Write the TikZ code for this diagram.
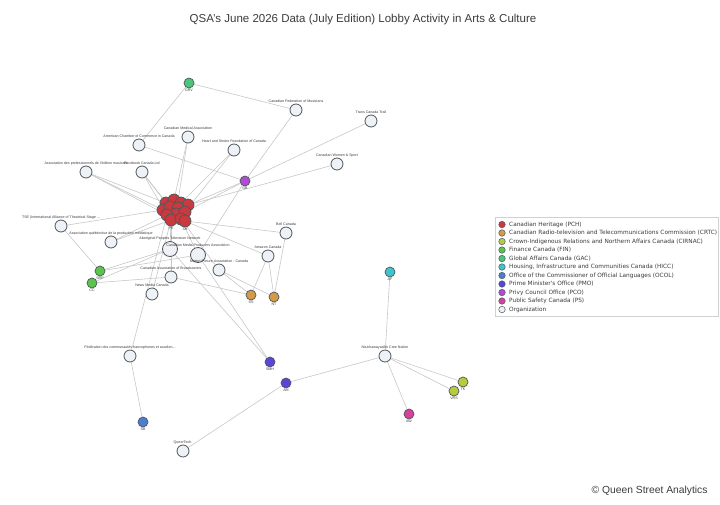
\documentclass[tikz,border=0pt]{standalone}
\usepackage{fontspec}
\setmainfont{Liberation Sans}
\newfontfamily\legendfont{DejaVu Sans}
\usetikzlibrary{backgrounds}

\definecolor{pchred}{HTML}{C83A3E}
\definecolor{crtcorange}{HTML}{D49A48}
\definecolor{cirnacolive}{HTML}{B6CC3E}
\definecolor{fingreen}{HTML}{5CC44C}
\definecolor{gacgreen}{HTML}{4CC47A}
\definecolor{hiccteal}{HTML}{3EC4CA}
\definecolor{ocolblue}{HTML}{4A7ED0}
\definecolor{pmoindigo}{HTML}{5A46D4}
\definecolor{pcopurple}{HTML}{B04CCF}
\definecolor{psmagenta}{HTML}{D4429A}
\definecolor{orgfill}{HTML}{EEF2F6}
\definecolor{nodeline}{HTML}{4E565E}
\definecolor{edgegray}{HTML}{C8C8C8}
\definecolor{labelgray}{HTML}{3C3C3C}

\begin{document}
\begin{tikzpicture}[x=1pt, y=-1pt,
  org/.style={shape=circle, draw=nodeline, fill=orgfill, line width=0.8pt, minimum size=12pt, inner sep=0pt},
  bigorg/.style={org, minimum size=15pt},
  gov/.style={shape=circle, draw=nodeline, line width=0.7pt, minimum size=10pt, inner sep=0pt},
  pch/.style={gov, fill=pchred, minimum size=12pt},
  lbl/.style={font=\fontsize{3.6}{4}\selectfont, text=labelgray, inner sep=0.6pt},
  link/.style={draw=edgegray, line width=0.6pt},
  legmark/.style={shape=circle, draw=nodeline, line width=0.5pt, minimum size=6.5pt, inner sep=0pt},
  legtext/.style={anchor=west, font=\legendfont\fontsize{5.8}{7}\selectfont, text=labelgray, inner sep=0pt}
]
\useasboundingbox (0,0) rectangle (720,504);

\node[font=\fontsize{11.5}{13}\selectfont, text=labelgray] (title) at (363,20) {QSA's June 2026 Data (July Edition) Lobby Activity in Arts \& Culture};

% organizations
\node[org, label={[lbl]above:Canadian Federation of Musicians}] (cfm) at (296,110) {};
\node[org, label={[lbl]above:Trans Canada Trail}] (tct) at (371,121) {};
\node[org, label={[lbl]above:Canadian Medical Association}] (cma) at (188,137) {};
\node[org, label={[lbl]above:American Chamber of Commerce in Canada}] (amcham) at (139,145) {};
\node[org, label={[lbl]above:Heart and Stroke Foundation of Canada}] (hsf) at (234,150) {};
\node[org, label={[lbl]above:Canadian Women \& Sport}] (cws) at (337,164) {};
\node[org, label={[lbl]above:Association des professionnels de l'édition musicale}] (apem) at (86,172) {};
\node[org, label={[lbl]above:Facebook Canada Ltd}] (fb) at (142,172) {};
\node[org, label={[lbl]above:TSE (International Alliance of Theatrical Stage ...}] (tse) at (61,226) {};
\node[org, label={[lbl]above:Association québécoise de la production médiatique}] (aqpm) at (111,242) {};
\node[bigorg, label={[lbl]above:Aboriginal Peoples Television Network}] (aptn) at (170,249) {};
\node[bigorg, label={[lbl]above:Canadian Media Producers Association}] (cmpa) at (198,255) {};
\node[org, label={[lbl]above:Motion Picture Association - Canada}] (mpa) at (219,270) {};
\node[org, label={[lbl]above:Canadian Association of Broadcasters}] (cab) at (171,277) {};
\node[org, label={[lbl]above:Bell Canada}] (bell) at (286,233) {};
\node[org, label={[lbl]above:Amazon Canada}] (amazon) at (268,256) {};
\node[org, label={[lbl]above:News Media Canada}] (news) at (152,294) {};
\node[org, label={[lbl]above:Fédération des communautés francophones et acadien...}] (fcfa) at (130,356) {};
\node[org, label={[lbl]above:QueerTech.}] (qt) at (183,451) {};
\node[org, label={[lbl]above:Nisichawayasihk Cree Nation}] (ncn) at (385,356) {};

% officials
\node[gov, fill=gacgreen, label={[lbl]below:GRV}] (grv) at (189,83) {};
\node[gov, fill=pcopurple, label={[lbl]below:GB}] (gb) at (245,181) {};
\node[gov, fill=fingreen, label={[lbl]below:SRP}] (srp) at (100,271) {};
\node[gov, fill=fingreen, label={[lbl]below:CC}] (cc) at (92,283) {};
\node[gov, fill=crtcorange, label={[lbl]below:SS}] (ss) at (251,295) {};
\node[gov, fill=crtcorange, label={[lbl]below:NT}] (nt) at (274,297) {};
\node[gov, fill=hiccteal, label={[lbl]below:AF}] (af) at (390,272) {};
\node[gov, fill=pmoindigo, label={[lbl]below:SMH}] (smh) at (270,362) {};
\node[gov, fill=pmoindigo, label={[lbl]below:AM}] (am) at (286,383) {};
\node[gov, fill=ocolblue, label={[lbl]below:SB}] (sb) at (143,422) {};
\node[gov, fill=cirnacolive, label={[lbl]below:TK}] (tk) at (463,382) {};
\node[gov, fill=cirnacolive, label={[lbl]below:VRS}] (vrs) at (454,391) {};
\node[gov, fill=psmagenta, label={[lbl]below:AW}] (aw) at (409,414) {};

% PCH cluster
\node[pch] (p1) at (166,203) {};
\node[pch] (p2) at (174,200) {};
\node[pch] (p3) at (181,203) {};
\node[pch] (p4) at (188,205) {};
\node[pch] (p5) at (163,210) {};
\node[pch] (p6) at (170,207) {};
\node[pch] (p13) at (178,208) {};
\node[pch] (p7) at (176,214) {};
\node[pch] (p8) at (185,212) {};
\node[pch] (p9) at (167,215) {};
\node[pch, label={[lbl]below:PE}] (p10) at (171,220) {};
\node[pch] (p11) at (181,219) {};
\node[pch, label={[lbl]below:SH}] (p12) at (185,221) {};

\begin{pgfonlayer}{background}
\fill[white] (0,0) rectangle (720,504);
\path [link] (grv) edge (cfm);
\path [link] (grv) edge (amcham);
\path [link] (gb) edge (amcham);
\path [link] (gb) edge (cfm);
\path [link] (gb) edge (tct);
\path [link] (gb) edge (p4);
\path [link] (gb) edge (p8);
\path [link] (gb) edge (cmpa);
\path [link] (cws) edge (p4);
\path [link] (hsf) edge (p3);
\path [link] (hsf) edge (p8);
\path [link] (cma) edge (p2);
\path [link] (cma) edge (p7);
\path [link] (fb) edge (p1);
\path [link] (fb) edge (p6);
\path [link] (fb) edge (p9);
\path [link] (apem) edge (p1);
\path [link] (apem) edge (p5);
\path [link] (apem) edge (p9);
\path [link] (tse) edge (p5);
\path [link] (tse) edge (srp);
\path [link] (aqpm) edge (p9);
\path [link] (aqpm) edge (p10);
\path [link] (bell) edge (p12);
\path [link] (bell) edge (nt);
\path [link] (amazon) edge (p12);
\path [link] (amazon) edge (ss);
\path [link] (amazon) edge (nt);
\path [link] (mpa) edge (p11);
\path [link] (mpa) edge (ss);
\path [link] (mpa) edge (nt);
\path [link] (cab) edge (p10);
\path [link] (cab) edge (ss);
\path [link] (news) edge (p10);
\path [link] (fcfa) edge (p9);
\path [link] (fcfa) edge (sb);
\path [link] (aptn) edge (p10);
\path [link] (aptn) edge (smh);
\path [link] (aptn) edge (srp);
\path [link] (cmpa) edge (p11);
\path [link] (cmpa) edge (smh);
\path [link] (cmpa) edge (srp);
\path [link] (cc) edge (aptn);
\path [link] (cc) edge (cab);
\path [link] (am) edge (ncn);
\path [link] (am) edge (qt);
\path [link] (ncn) edge (af);
\path [link] (ncn) edge (tk);
\path [link] (ncn) edge (vrs);
\path [link] (ncn) edge (aw);
\end{pgfonlayer}

% legend
\draw[draw=black!18, line width=0.5pt] (495,217) rectangle (718,316);
\node[legmark, fill=pchred] (lg1) at (502,224.5) {};
\node[legtext] at (509,224.5) {Canadian Heritage (PCH)};
\node[legmark, fill=crtcorange] (lg2) at (502,233) {};
\node[legtext] at (509,233) {Canadian Radio-television and Telecommunications Commission (CRTC)};
\node[legmark, fill=cirnacolive] (lg3) at (502,241.5) {};
\node[legtext] at (509,241.5) {Crown-Indigenous Relations and Northern Affairs Canada (CIRNAC)};
\node[legmark, fill=fingreen] (lg4) at (502,250) {};
\node[legtext] at (509,250) {Finance Canada (FIN)};
\node[legmark, fill=gacgreen] (lg5) at (502,258.5) {};
\node[legtext] at (509,258.5) {Global Affairs Canada (GAC)};
\node[legmark, fill=hiccteal] (lg6) at (502,267) {};
\node[legtext] at (509,267) {Housing, Infrastructure and Communities Canada (HICC)};
\node[legmark, fill=ocolblue] (lg7) at (502,275.5) {};
\node[legtext] at (509,275.5) {Office of the Commissioner of Official Languages (OCOL)};
\node[legmark, fill=pmoindigo] (lg8) at (502,284) {};
\node[legtext] at (509,284) {Prime Minister's Office (PMO)};
\node[legmark, fill=pcopurple] (lg9) at (502,292.5) {};
\node[legtext] at (509,292.5) {Privy Council Office (PCO)};
\node[legmark, fill=psmagenta] (lg10) at (502,301) {};
\node[legtext] at (509,301) {Public Safety Canada (PS)};
\node[legmark, fill=orgfill] (lg11) at (502,309.5) {};
\node[legtext] at (509,309.5) {Organization};

\node[anchor=east, font=\fontsize{10.3}{12}\selectfont, text=labelgray] (credit) at (711,491) {© Queen Street Analytics};
\end{tikzpicture}
\end{document}
